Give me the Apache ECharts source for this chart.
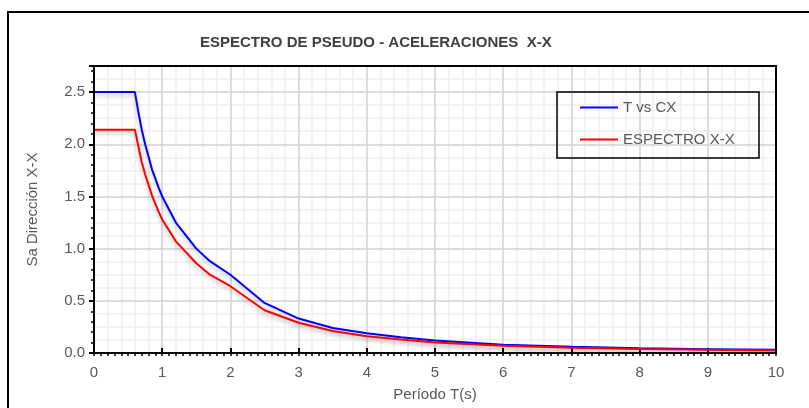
<!DOCTYPE html>
<html>
<head>
<meta charset="utf-8">
<script src="https://cdn.jsdelivr.net/npm/echarts@6/dist/echarts.min.js"></script>
<style>
  html, body { margin: 0; padding: 0; background: #fff; }
  #chart { width: 809px; height: 408px; }
</style>
</head>
<body>
<div id="chart"></div>
<script>
// periodo T (s)
var periodos = [0, 0.6, 0.65, 0.7, 0.75, 0.8, 0.85, 0.9, 0.95, 1.0, 1.2, 1.5, 1.7, 2.0, 2.5, 3.0, 3.5, 4.0, 4.5, 5.0, 6.0, 7.0, 8.0, 9.0, 10.0];
// T vs CX
var cx = [2.5, 2.5, 2.31, 2.14, 2.0, 1.88, 1.76, 1.67, 1.58, 1.5, 1.25, 1.0, 0.88, 0.75, 0.48, 0.33, 0.24, 0.19, 0.15, 0.12, 0.08, 0.06, 0.045, 0.037, 0.03];
// ESPECTRO X-X
var espectro = [2.14, 2.14, 1.98, 1.83, 1.71, 1.61, 1.51, 1.43, 1.35, 1.28, 1.07, 0.86, 0.75, 0.64, 0.41, 0.29, 0.21, 0.16, 0.13, 0.10, 0.07, 0.05, 0.038, 0.032, 0.025];

var txtColor = "#595959";

function pares(xs, ys) {
  return xs.map(function (x, i) { return [x, ys[i]]; });
}

var myChart = echarts.init(document.getElementById("chart"));
var option = {
  backgroundColor: "#fff",
  animation: false,
  title: {
    text: "ESPECTRO DE PSEUDO - ACELERACIONES  X-X",
    left: 200,
    top: 35,
    padding: 0,
    textStyle: { fontFamily: "Liberation Sans", fontSize: 15, fontWeight: "bold", color: "#404040" },
  },
  legend: {
    orient: "vertical",
    left: 580,
    top: 100,
    padding: 0,
    itemGap: 17,
    itemWidth: 38,
    itemHeight: 2,
    icon: "rect",
    textStyle: { fontFamily: "Liberation Sans", fontSize: 15, color: txtColor },
    data: ["T vs CX", "ESPECTRO X-X"],
  },
  grid: { left: 94, right: 33, top: 66, bottom: 55 },
  xAxis: [
    {
      type: "value",
      min: 0,
      max: 10,
      interval: 1,
      z: 3,
      name: "Período T(s)",
      nameLocation: "middle",
      nameGap: 34,
      nameTextStyle: { fontFamily: "Liberation Sans", fontSize: 15, color: txtColor },
      axisLine: { lineStyle: { color: "#000", width: 2 } },
      axisTick: { inside: true, length: 5, lineStyle: { color: "#000", width: 2 } },
      axisLabel: { fontFamily: "Liberation Sans", fontSize: 15, color: txtColor, margin: 12 },
      splitLine: { show: true, lineStyle: { color: "#d6d6d6", width: 1.5 } },
    },
    {
      // rejilla menor
      type: "value",
      min: 0,
      max: 10,
      interval: 0.2,
      z: 1,
      position: "bottom",
      axisLine: { show: false },
      axisTick: { show: true, length: 3, lineStyle: { color: "#000", width: 1.5 } },
      minorTick: { show: true, splitNumber: 2, length: 3, lineStyle: { color: "#000", width: 1.5 } },
      axisLabel: { show: false },
      splitLine: { show: true, lineStyle: { color: "#efefef", width: 1.5 } },
    },
  ],
  yAxis: [
    {
      type: "value",
      min: 0,
      max: 2.75,
      interval: 0.5,
      z: 3,
      name: "Sa Dirección X-X",
      nameLocation: "middle",
      nameRotate: 90,
      nameGap: 54,
      nameTextStyle: { fontFamily: "Liberation Sans", fontSize: 15, color: txtColor },
      axisLine: { show: true, lineStyle: { color: "#000", width: 2 } },
      axisTick: { show: true, length: 5, lineStyle: { color: "#000", width: 2 } },
      minorTick: { show: true, splitNumber: 5, length: 3, lineStyle: { color: "#000", width: 1.5 } },
      axisLabel: {
        fontFamily: "Liberation Sans",
        fontSize: 15,
        color: txtColor,
        margin: 9,
        showMaxLabel: false,
        formatter: function (v) { return v.toFixed(1); },
      },
      splitLine: { show: true, lineStyle: { color: "#d6d6d6", width: 1.5 } },
    },
    {
      type: "value",
      min: 0,
      max: 2.75,
      interval: 0.125,
      z: 1,
      axisLine: { show: false },
      axisTick: { show: false },
      axisLabel: { show: false },
      splitLine: { show: true, lineStyle: { color: "#efefef", width: 1.5 } },
    },
  ],
  graphic: [
    {
      type: "rect",
      z: 100,
      shape: { x: 94, y: 66, width: 682, height: 287 },
      style: { fill: null, stroke: "#000", lineWidth: 2 },
    },
    {
      type: "rect",
      z: 100,
      shape: { x: 557, y: 92, width: 202, height: 66 },
      style: { fill: null, stroke: "#000", lineWidth: 1.5 },
    },
    {
      type: "rect",
      z: 100,
      shape: { x: 8, y: 12, width: 840, height: 440 },
      style: { fill: null, stroke: "#000", lineWidth: 2 },
    },
  ],
  series: [
    {
      name: "T vs CX",
      type: "line",
      xAxisIndex: 0,
      yAxisIndex: 0,
      symbol: "none",
      z: 5,
      color: "#0000ff",
      lineStyle: { width: 2, color: "#0000ff", shadowColor: "rgba(0,0,0,0.25)", shadowBlur: 4, shadowOffsetY: 3 },
      data: pares(periodos, cx),
    },
    {
      name: "ESPECTRO X-X",
      type: "line",
      xAxisIndex: 0,
      yAxisIndex: 0,
      symbol: "none",
      z: 6,
      color: "#ff0000",
      lineStyle: { width: 2, color: "#ff0000", shadowColor: "rgba(0,0,0,0.25)", shadowBlur: 4, shadowOffsetY: 3 },
      data: pares(periodos, espectro),
    },
  ],
};
myChart.setOption(option);
</script>
</body>
</html>
